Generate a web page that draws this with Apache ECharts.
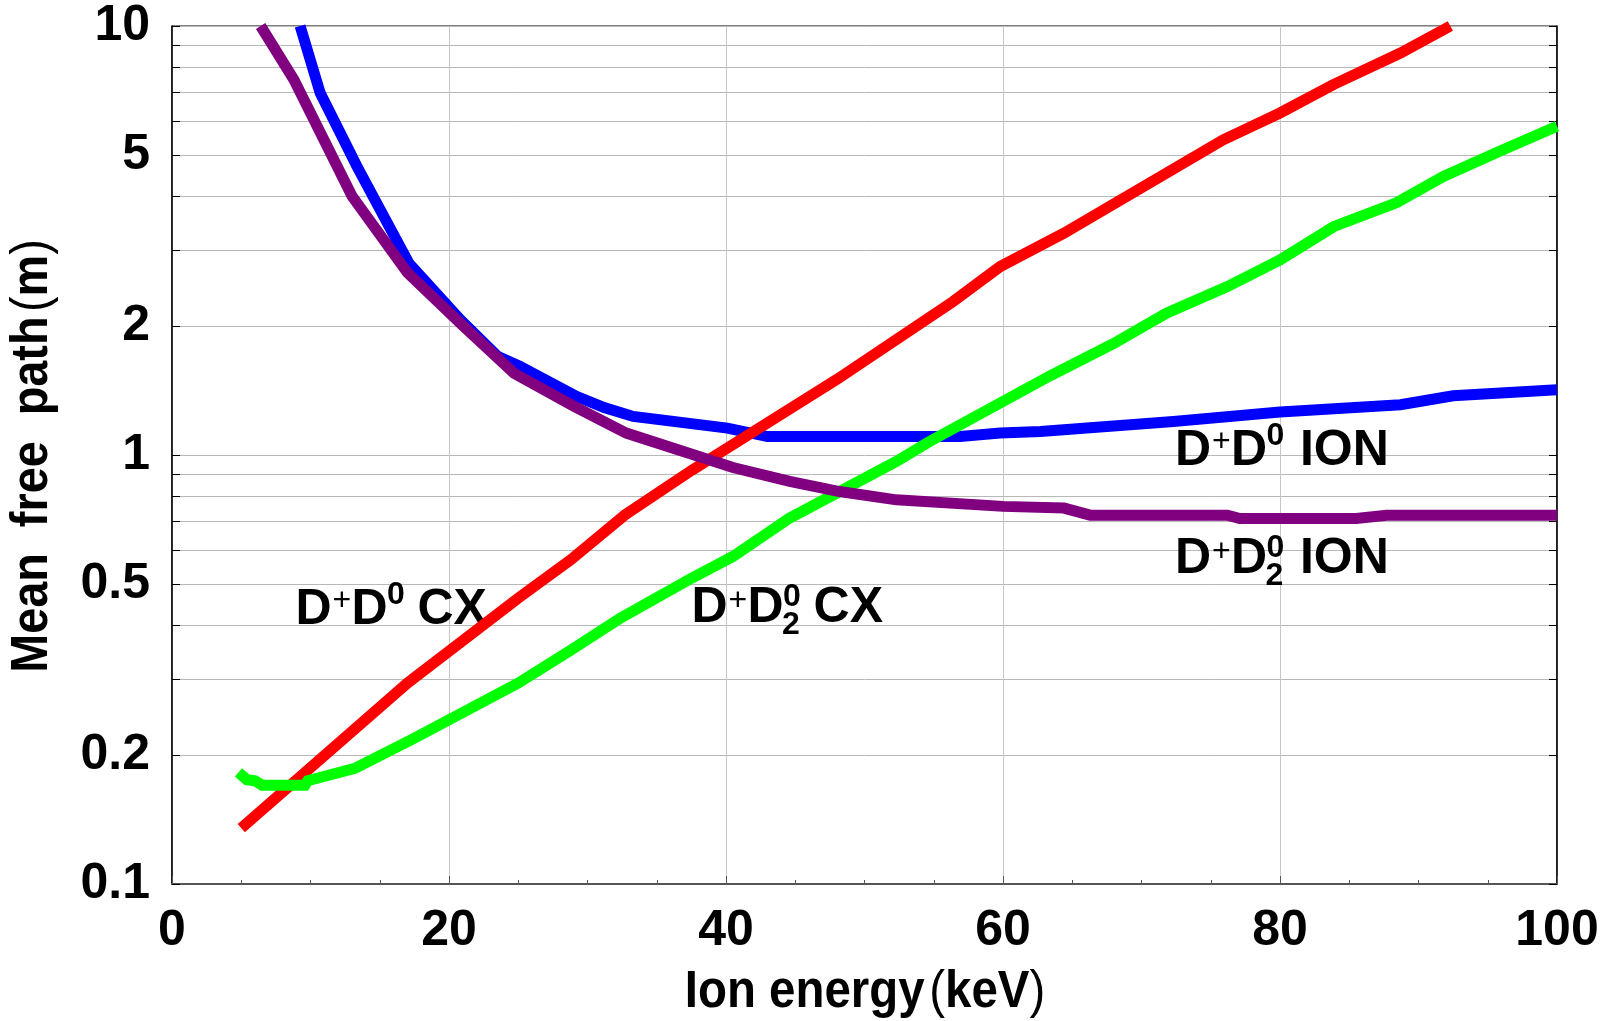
<!DOCTYPE html>
<html>
<head>
<meta charset="utf-8">
<title>Mean free path vs ion energy</title>
<script src="https://cdn.jsdelivr.net/npm/echarts@6/dist/echarts.min.js"></script>
<style>
  html, body { margin: 0; padding: 0; background: #ffffff; }
  #chart { width: 1602px; height: 1021px; }
</style>
</head>
<body>
<div id="chart"></div>
<script>
// Mean free path (m) of D+ ions against ion energy (keV)

// D+ D0 charge exchange
const energyCX1 = [5, 17, 25, 28.8, 32.7, 37.5, 48, 56.4, 59.8, 64.4, 75.9, 80, 83.85, 88.7, 92.3];
const pathCX1   = [0.135, 0.294, 0.464, 0.57, 0.725, 0.92, 1.50, 2.28, 2.75, 3.29, 5.43, 6.27, 7.30, 8.65, 10];

// D+ D2^0 charge exchange
const energyCX2 = [4.8, 5.4, 6.0, 6.5, 9.6, 9.8, 13.2, 17.3, 25.0, 28.8, 32.4, 37.5, 40.5, 44.6, 52.3, 54.7, 63.4, 68.0, 71.8, 76.2, 80.0, 83.9, 88.4, 91.8, 95.9, 100];
const pathCX2   = [0.182, 0.175, 0.174, 0.170, 0.170, 0.174, 0.186, 0.217, 0.294, 0.351, 0.417, 0.516, 0.580, 0.713, 0.966, 1.075, 1.53, 1.82, 2.14, 2.47, 2.85, 3.41, 3.87, 4.46, 5.11, 5.84];

// D+ D0 ionisation
const energyION1 = [9.25, 10.7, 13.35, 17.1, 20.8, 23.5, 25.1, 29.2, 31.2, 33.3, 40.1, 43.0, 56.9, 59.8, 62.7, 72.3, 80.0, 88.7, 92.5, 100];
const pathION1   = [10, 6.98, 4.71, 2.80, 2.07, 1.70, 1.61, 1.37, 1.29, 1.23, 1.155, 1.104, 1.104, 1.125, 1.134, 1.197, 1.26, 1.31, 1.374, 1.42];

// D+ D2^0 ionisation
const energyION2 = [6.4, 8.8, 13.0, 17.0, 20.8, 24.7, 29.0, 32.8, 40.5, 44.6, 48.2, 52.3, 60.0, 64.4, 66.3, 76.2, 77.1, 85.5, 87.7, 100];
const pathION2   = [10, 7.50, 4.01, 2.66, 2.03, 1.55, 1.30, 1.125, 0.935, 0.868, 0.822, 0.786, 0.759, 0.752, 0.724, 0.724, 0.711, 0.711, 0.724, 0.724];

// axis ticks
const xTicks = [0, 20, 40, 60, 80, 100];
const yGridValues = [0.1, 0.2, 0.3, 0.4, 0.5, 0.6, 0.7, 0.8, 0.9, 1, 2, 3, 4, 5, 6, 7, 8, 9, 10];
const yLabelValues = [0.1, 0.2, 0.5, 1, 2, 5, 10];

// curve annotations: anchor (energy, path), subscript on the neutral, process name
const labelEnergy = [9.2, 37.8, 72.7, 72.7];
const labelPath   = [0.395, 0.398, 0.927, 0.519];
const labelSub    = ['', '2', '', '2'];
const labelProc   = ['CX', 'CX', 'ION', 'ION'];

const FONT = '"Liberation Sans", Arial, Helvetica, sans-serif';

function pairs(xs, ys) {
  return xs.map((x, i) => [x, ys[i]]);
}

function lineSeries(name, xs, ys, color) {
  return {
    name: name,
    type: 'line',
    data: pairs(xs, ys),
    symbol: 'none',
    showSymbol: false,
    smooth: false,
    silent: true,
    lineStyle: { color: color, width: 11, cap: 'butt', join: 'miter' }
  };
}

const fmt = v => String(+Number(v).toPrecision(3));

const chart = echarts.init(document.getElementById('chart'), null, { renderer: 'canvas' });

const option = {
  animation: false,
  backgroundColor: '#ffffff',
  grid: {
    left: 172, right: 45, top: 26, bottom: 137,
    show: true, borderColor: '#000000', borderWidth: 1, backgroundColor: 'transparent'
  },
  xAxis: [{
    type: 'value',
    min: xTicks[0],
    max: xTicks[xTicks.length - 1],
    interval: xTicks[1] - xTicks[0],
    axisLine: { show: true, onZero: false, lineStyle: { color: '#555555', width: 2 } },
    axisTick: { show: true, inside: true, length: 8, lineStyle: { color: '#555555', width: 1 } },
    minorTick: { show: true, splitNumber: 4, length: 4, lineStyle: { color: '#555555', width: 1 } },
    splitLine: { show: true, lineStyle: { color: '#c6c6c6', width: 1 } },
    axisLabel: {
      fontSize: 50, fontWeight: 'bold', fontFamily: FONT, color: '#000000', margin: 22,
      formatter: fmt
    }
  }],
  yAxis: [{
    type: 'log',
    logBase: 10,
    min: yGridValues[0],
    max: yGridValues[yGridValues.length - 1],
    axisLine: { show: true, lineStyle: { color: '#000000', width: 1.5 } },
    axisTick: { show: true, inside: true, length: 8, customValues: yGridValues, lineStyle: { color: '#000000', width: 1 } },
    splitLine: { show: true, lineStyle: { color: '#b8b8b8', width: 1 } },
    axisLabel: {
      customValues: yLabelValues,
      fontSize: 50, fontWeight: 'bold', fontFamily: FONT, color: '#000000', margin: 22,
      formatter: fmt
    }
  }, {
    type: 'log',
    logBase: 10,
    position: 'right',
    min: yGridValues[0],
    max: yGridValues[yGridValues.length - 1],
    axisLine: { show: true, lineStyle: { color: '#000000', width: 1.5 } },
    axisTick: { show: true, inside: true, length: 8, customValues: yGridValues, lineStyle: { color: '#000000', width: 1 } },
    splitLine: { show: false },
    axisLabel: { show: false }
  }],
  series: [
    lineSeries('D+D0 ION', energyION1, pathION1, '#0000ff'),
    lineSeries('D+D0 CX', energyCX1, pathCX1, '#ff0000'),
    lineSeries('D+D2 CX', energyCX2, pathCX2, '#00ff00'),
    lineSeries('D+D2 ION', energyION2, pathION2, '#800080')
  ]
};

chart.setOption(option);

// text pieces of a reaction label, relative to its anchor (left edge, baseline)
function reactionLabel(i) {
  const p = chart.convertToPixel({ xAxisIndex: 0, yAxisIndex: 0 }, [labelEnergy[i], labelPath[i]]);
  const big = { fontSize: 50, fontWeight: 'bold', fontFamily: FONT, fill: '#000000', align: 'left', verticalAlign: 'middle' };
  const small = { fontSize: 32, fontWeight: 'bold', fontFamily: FONT, fill: '#000000', align: 'left', verticalAlign: 'middle' };
  const hasSub = labelSub[i] !== '';
  const children = [
    { type: 'text', x: -4, y: -18, style: Object.assign({}, big, { text: 'D' }) },
    { type: 'text', x: 33, y: hasSub ? -25 : -27, style: Object.assign({}, small, { text: '+', fontWeight: 'normal' }) },
    { type: 'text', x: 52, y: -18, style: Object.assign({}, big, { text: 'D' }) },
    { type: 'text', x: 87.5, y: hasSub ? -29 : -33, style: Object.assign({}, small, { text: '0' }) },
    { type: 'text', x: labelProc[i] === 'CX' ? 118 : 121, y: -18, style: Object.assign({}, big, { text: labelProc[i] }) }
  ];
  if (hasSub) {
    children.push({ type: 'text', x: 86.5, y: -1, style: Object.assign({}, small, { text: labelSub[i] }) });
  }
  return { type: 'group', x: p[0], y: p[1], silent: true, z: 10, children: children };
}

const titleRich = size => ({
  b: { fontSize: size, fontWeight: 'bold', fontFamily: FONT, fill: '#000000' },
  p: { fontSize: size, fontWeight: 'normal', fontFamily: FONT, fill: '#000000' },
  s: { fontSize: 18, fontFamily: FONT }
});

chart.setOption({
  graphic: [
    {
      type: 'text', x: 865, y: 993, scaleX: 0.93, silent: true,
      style: {
        text: '{b|Ion energy}{s| }{p|(}{b|keV}{p|)}',
        rich: titleRich(51), fill: '#000000', align: 'center', verticalAlign: 'middle'
      }
    },
    {
      type: 'text', x: 33, y: 456, rotation: Math.PI / 2, scaleX: 0.9, silent: true,
      style: {
        text: '{b|Mean  free  path}{s| }{p|(}{b|m}{p|)}',
        rich: titleRich(52), fill: '#000000', align: 'center', verticalAlign: 'middle'
      }
    }
  ].concat(labelEnergy.map((_, i) => reactionLabel(i)))
});
</script>
</body>
</html>
